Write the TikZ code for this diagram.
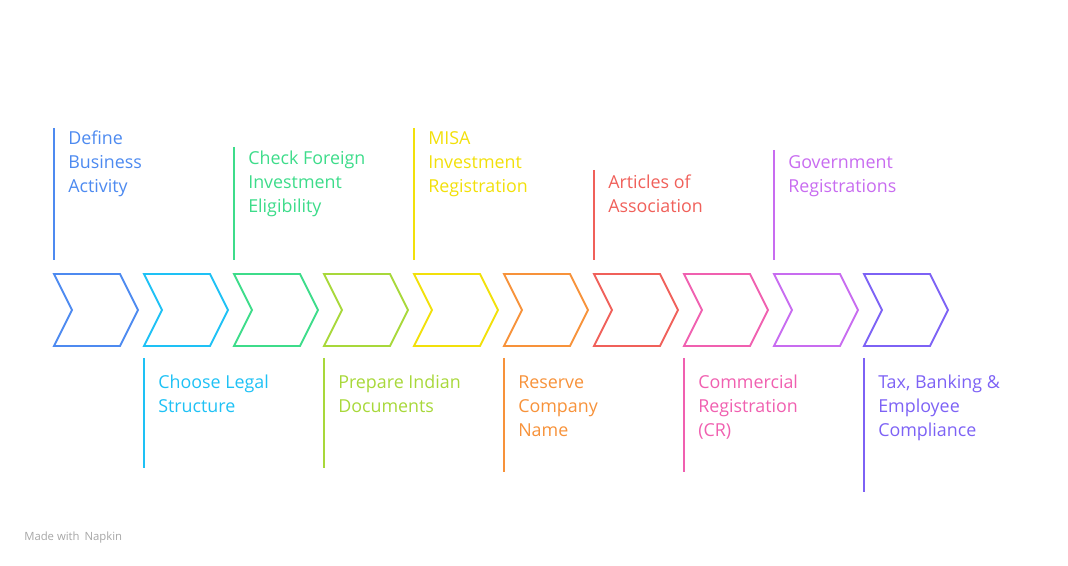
\documentclass[tikz,border=0pt]{standalone}
\usepackage{fontspec}
\setmainfont{Open Sans}
\usetikzlibrary{positioning}
\definecolor{c1}{HTML}{4D8AF0}
\definecolor{c2}{HTML}{1EC1F5}
\definecolor{c3}{HTML}{3DDC8A}
\definecolor{c4}{HTML}{A8D83A}
\definecolor{c5}{HTML}{F2E00A}
\definecolor{c6}{HTML}{F7923A}
\definecolor{c7}{HTML}{F0605A}
\definecolor{c8}{HTML}{F060B0}
\definecolor{c9}{HTML}{C86CF0}
\definecolor{c10}{HTML}{7D62F5}

\begin{document}
\begin{tikzpicture}[x=0.75pt, y=-0.75pt,
    chevron/.style={line width=1.4pt, line join=miter},
    stem/.style={line width=1.4pt},
    label/.style={anchor=north west, inner sep=0pt, align=left,
        font=\fontsize{13.4pt}{18pt}\selectfont}
]
    \useasboundingbox (0,0) rectangle (1068,566);

    % chevrons
    \foreach \i in {1,...,10} {
        \pgfmathsetmacro{\x}{54+90*(\i-1)}
        \draw[chevron, c\i] (\x,274) -- (\x+66,274) -- (\x+84,310) -- (\x+66,346)
            -- (\x,346) -- (\x+18,310) -- cycle;
        \coordinate (c\i) at (\x,0);
    }

    % labels and stems
    \foreach \i/\a/\b/\ty/\txt in {
        1/128/260/131/{Define\\Business\\Activity},
        2/358/468/375/{Choose Legal\\Structure},
        3/147/260/151/{Check Foreign\\Investment\\Eligibility},
        4/358/468/375/{Prepare Indian\\Documents},
        5/128/260/131/{MISA\\Investment\\Registration},
        6/358/472/375/{Reserve\\Company\\Name},
        7/170/260/175/{Articles of\\Association},
        8/358/472/375/{Commercial\\Registration\\(CR)},
        9/150/260/155/{Government\\Registrations},
        10/358/492/375/{Tax, Banking \&\\Employee\\Compliance}} {
        \coordinate (s\i a) at ([yshift=-\a*0.75pt]c\i);
        \coordinate (s\i b) at ([yshift=-\b*0.75pt]c\i);
        \draw[stem, c\i] (s\i a) -- (s\i b);
        \node[label, text=c\i] (t\i) at ([xshift=10.5pt, yshift=-\ty*0.75pt]c\i) {\txt};
    }

    \node[anchor=west, inner sep=0pt, text=black!35, font=\fontsize{8.5pt}{10pt}\selectfont]
        (credit) at (24,538) {Made with \,Napkin};
\end{tikzpicture}
\end{document}
